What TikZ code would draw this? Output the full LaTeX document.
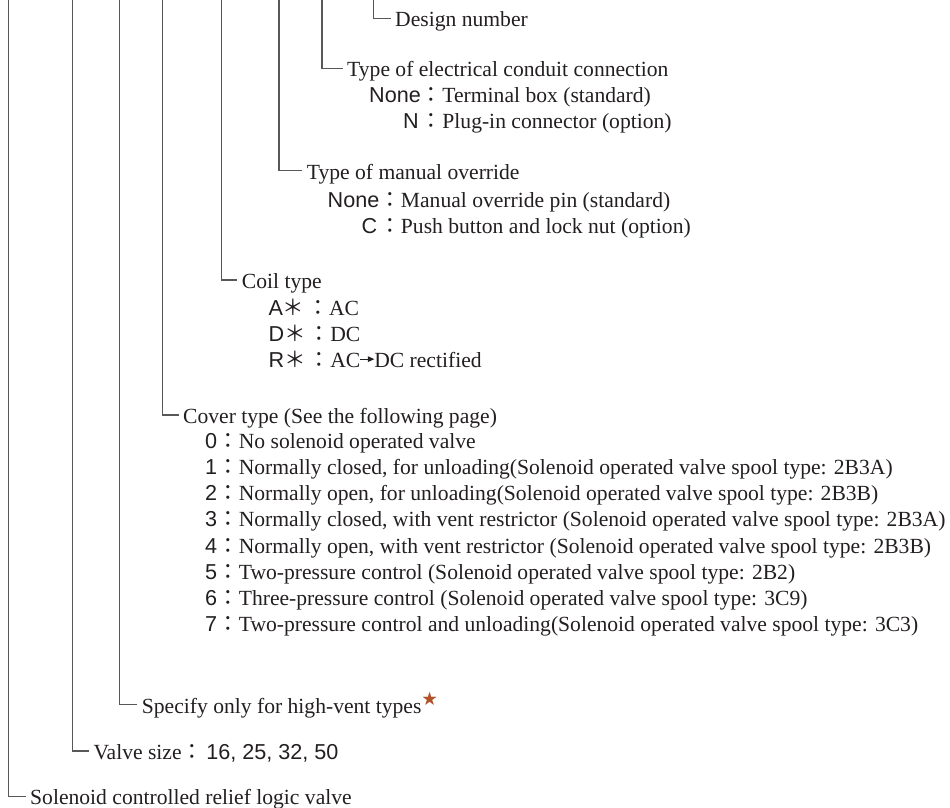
\documentclass[tikz,border=0pt]{standalone}
\usepackage{fontspec}
\usepackage{calc}
\setmainfont{Liberation Serif}
\setsansfont{Liberation Sans}
\newfontfamily\jpfont{Noto Sans CJK JP}
\newfontfamily\djfont{DejaVu Sans}
\definecolor{textc}{RGB}{35,31,32}
\definecolor{linec}{RGB}{88,88,88}
\definecolor{starc}{RGB}{176,82,42}
\newcommand{\cl}{{\jpfont ：}}
\newcommand{\cd}[2]{\makebox[\widthof{\sffamily #1}][r]{\sffamily #2}}
\newcommand{\astk}{{\jpfont ＊}}
\newcommand{\arw}{\tikz[x=1pt,y=1pt,baseline=0pt]{\fill[textc] (0.5,7.2) rectangle (9,8.5); \fill[textc] (8,4.9) -- (14.5,7.85) -- (8,10.8) -- cycle;}}
\begin{document}
\begin{tikzpicture}[x=1pt,y=-1pt,
  every node/.style={text=textc,font=\fontsize{21.6}{26}\selectfont},
  conn/.style={draw=linec,line width=1.2pt,shorten >=4.5pt},
  hd/.style={anchor=west,inner xsep=0pt,inner ysep=0pt,text height=17pt,text depth=0pt},
  itm/.style={anchor=base west,inner sep=0pt}]
\useasboundingbox (0,0) rectangle (950,808);
% tops of the vertical lines
\coordinate (tSol) at (8.3,0);
\coordinate (tVal) at (72.7,0);
\coordinate (tSpe) at (119.3,0);
\coordinate (tCov) at (162.3,0);
\coordinate (tCoi) at (221.7,0);
\coordinate (tMan) at (279,0);
\coordinate (tEle) at (322,0);
\coordinate (tDes) at (373.3,0);
% headings
\node[hd] (hDes) at (395,18.3) {Design number};
\node[hd] (hEle) at (347,68.3) {Type of electrical conduit connection};
\node[hd] (hMan) at (306.7,170.7) {Type of manual override};
\node[hd] (hCoi) at (241.7,280) {Coil type};
\node[hd] (hCov) at (183,415) {Cover type (See the following page)};
\node[hd] (hSpe) at (141.7,704.5) {Specify only for high-vent types\raisebox{7.5pt}{\fontsize{18.5}{18.5}\selectfont\djfont\color{starc}★}};
\node[hd] (hVal) at (93.3,751) {Valve size\cl\hspace{3pt}{\sffamily 16, 25, 32, 50}};
\node[hd] (hSol) at (30,796.2) {Solenoid controlled relief logic valve};
% connectors
\draw[conn] (tDes) |- (hDes);
\draw[conn] (tEle) |- (hEle);
\draw[conn] (tMan) |- (hMan);
\draw[conn] (tCoi) |- (hCoi);
\draw[conn] (tCov) |- (hCov);
\draw[conn] (tSpe) |- (hSpe);
\draw[conn] (tVal) |- (hVal);
\draw[conn] (tSol) |- (hSol);
% electrical conduit items
\node[itm] (e1) at (369,102.5) {\cd{None}{None}\cl Terminal box (standard)};
\node[itm] (e2) at (369,128) {\cd{None}{N\hspace{2pt}}\cl Plug-in connector (option)};
% manual override items
\node[itm] (m1) at (327.5,207.5) {\cd{None}{None}\cl Manual override pin (standard)};
\node[itm] (m2) at (327.5,233) {\cd{None}{C\hspace{2pt}}\cl Push button and lock nut (option)};
% coil items
\node[itm] (c1) at (268.3,315) {{\sffamily A}\astk\hspace{3pt}\cl AC};
\node[itm] (c2) at (268.3,341) {{\sffamily D}\astk\hspace{3pt}\cl DC};
\node[itm] (c3) at (268.3,367) {{\sffamily R}\astk\hspace{3pt}\cl AC\arw DC rectified};
% cover items
\node[itm] (v0) at (205,448.5) {{\sffamily 0}\cl No solenoid operated valve};
\node[itm] (v1) at (205,474.6) {{\sffamily 1}\cl Normally closed, for unloading(Solenoid operated valve spool type: 2B3A)};
\node[itm] (v2) at (205,500.8) {{\sffamily 2}\cl Normally open, for unloading(Solenoid operated valve spool type: 2B3B)};
\node[itm] (v3) at (205,526.9) {{\sffamily 3}\cl Normally closed, with vent restrictor (Solenoid operated valve spool type: 2B3A)};
\node[itm] (v4) at (205,553.1) {{\sffamily 4}\cl Normally open, with vent restrictor (Solenoid operated valve spool type: 2B3B)};
\node[itm] (v5) at (205,579.2) {{\sffamily 5}\cl Two-pressure control (Solenoid operated valve spool type: 2B2)};
\node[itm] (v6) at (205,605.4) {{\sffamily 6}\cl Three-pressure control (Solenoid operated valve spool type: 3C9)};
\node[itm] (v7) at (205,631.5) {{\sffamily 7}\cl Two-pressure control and unloading(Solenoid operated valve spool type: 3C3)};
\end{tikzpicture}
\end{document}
